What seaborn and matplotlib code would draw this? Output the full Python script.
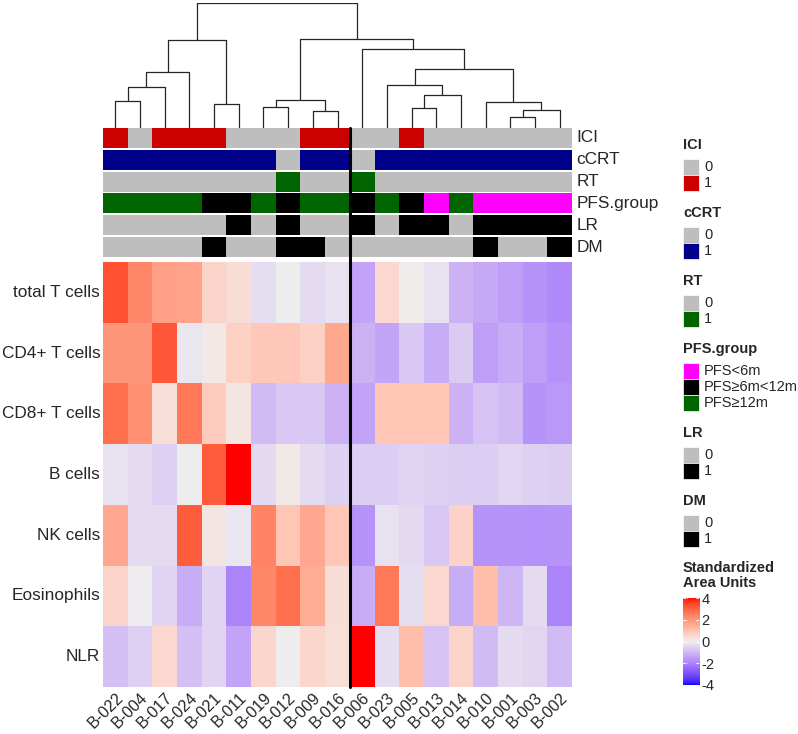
import numpy as np
import pandas as pd
import matplotlib
matplotlib.use("Agg")
import matplotlib.pyplot as plt
import seaborn as sns
from matplotlib.colors import ListedColormap, LinearSegmentedColormap
from matplotlib.lines import Line2D
from matplotlib.patches import Rectangle
from matplotlib.transforms import blended_transform_factory

# ---- data (column order = dendrogram leaf order) ----
samples = ["B-022", "B-004", "B-017", "B-024", "B-021", "B-011", "B-019", "B-012", "B-009", "B-016",
           "B-006", "B-023", "B-005", "B-013", "B-014", "B-010", "B-001", "B-003", "B-002"]
cell_types = ["total T cells", "CD4+ T cells", "CD8+ T cells", "B cells", "NK cells", "Eosinophils", "NLR"]
# last sample of the left column group (black split line drawn after it)
split_after = "B-016"

total_t = [3.3, 2.3, 1.8, 1.7, 0.6, 0.4, -0.3, 0.0, -0.35, -0.25, -1.4, 0.5, 0.05, -0.25, -1.1, -1.3, -1.5, -1.7, -1.85]
cd4 = [2.0, 2.0, 3.2, -0.15, 0.15, 0.7, 0.9, 0.9, 0.7, 1.6, -1.1, -1.35, -0.7, -1.25, -0.65, -1.5, -1.25, -1.5, -1.75]
cd8 = [2.8, 2.1, 0.35, 2.6, 0.8, 0.2, -0.95, -0.7, -0.7, -1.1, -1.4, 0.95, 0.95, 0.95, -1.1, -0.8, -0.95, -1.7, -1.6]
b_cells = [-0.25, -0.35, -0.55, 0.0, 3.1, 4.0, -0.4, 0.15, -0.35, -0.55, -0.6, -0.6, -0.5, -0.55, -0.6, -0.6, -0.45, -0.55, -0.6]
nk = [1.6, -0.35, -0.35, 3.1, 0.2, -0.15, 2.4, 0.95, 1.6, 0.95, -1.7, -0.25, -0.4, -0.7, 0.65, -1.7, -1.7, -1.75, -1.7]
eos = [0.6, -0.05, -0.5, -1.25, -0.5, -2.0, 2.3, 2.75, 1.5, 0.4, -1.25, 2.6, -0.3, 0.5, -1.25, 1.1, -1.05, -0.35, -2.0]
nlr = [-0.85, -0.55, 0.5, -0.85, -0.5, -1.4, 0.55, 0.0, 0.55, 0.35, 4.0, -0.3, 1.1, -0.8, 0.6, -0.95, -0.35, -0.45, -0.95]

ici = ["1", "0", "1", "1", "1", "0", "0", "0", "1", "1", "0", "0", "1", "0", "0", "0", "0", "0", "0"]
ccrt = ["1", "1", "1", "1", "1", "1", "1", "0", "1", "1", "0", "1", "1", "1", "1", "1", "1", "1", "1"]
rt = ["0", "0", "0", "0", "0", "0", "0", "1", "0", "0", "1", "0", "0", "0", "0", "0", "0", "0", "0"]
pfs = ["PFS≥12m", "PFS≥12m", "PFS≥12m", "PFS≥12m", "PFS≥6m<12m", "PFS≥6m<12m", "PFS≥12m", "PFS≥6m<12m",
       "PFS≥12m", "PFS≥12m", "PFS≥6m<12m", "PFS≥12m", "PFS≥6m<12m", "PFS<6m", "PFS≥12m",
       "PFS<6m", "PFS<6m", "PFS<6m", "PFS<6m"]
lr = ["0", "0", "0", "0", "0", "1", "0", "1", "0", "0", "1", "0", "1", "1", "0", "1", "1", "1", "1"]
dm = ["0", "0", "0", "0", "1", "0", "0", "1", "1", "0", "0", "0", "0", "0", "0", "1", "0", "0", "1"]

annotations = [
    ("ICI", ici, ["0", "1"], ["#BEBEBE", "#CD0000"]),
    ("cCRT", ccrt, ["0", "1"], ["#BEBEBE", "#00008B"]),
    ("RT", rt, ["0", "1"], ["#BEBEBE", "#006400"]),
    ("PFS.group", pfs, ["PFS<6m", "PFS≥6m<12m", "PFS≥12m"], ["#FF00FF", "#000000", "#006400"]),
    ("LR", lr, ["0", "1"], ["#BEBEBE", "#000000"]),
    ("DM", dm, ["0", "1"], ["#BEBEBE", "#000000"]),
]

# column dendrogram merges: (left, right, height, new node name)
dendro_merges = [
    ("B-022", "B-004", 2.14, "n0"),
    ("n0", "B-017", 3.22, "n1"),
    ("n1", "B-024", 4.42, "n2"),
    ("B-021", "B-011", 1.88, "n3"),
    ("n2", "n3", 7.05, "n4"),
    ("B-019", "B-012", 1.66, "n5"),
    ("B-009", "B-016", 1.29, "n6"),
    ("n5", "n6", 2.23, "n7"),
    ("B-005", "B-013", 1.55, "n8"),
    ("n8", "B-014", 2.65, "n9"),
    ("B-023", "n9", 3.38, "n10"),
    ("B-001", "B-003", 0.88, "n11"),
    ("n11", "B-002", 1.37, "n12"),
    ("B-010", "n12", 2.04, "n13"),
    ("n10", "n13", 4.72, "n14"),
    ("B-006", "n14", 6.33, "n15"),
    ("n7", "n15", 7.10, "n16"),
    ("n4", "n16", 10.0, "root"),
]

# ---- colour map: blue / #EEEEEE / red interpolated in LAB ----
def rgb2lab(rgb):
    c = np.asarray(rgb, float)
    lin = np.where(c <= 0.04045, c / 12.92, ((c + 0.055) / 1.055) ** 2.4)
    M = np.array([[0.4124, 0.3576, 0.1805], [0.2126, 0.7152, 0.0722], [0.0193, 0.1192, 0.9505]])
    xyz = M @ lin / np.array([0.95047, 1.0, 1.08883])
    f = np.where(xyz > 0.008856, np.cbrt(xyz), 7.787 * xyz + 16 / 116)
    return np.array([116 * f[1] - 16, 500 * (f[0] - f[1]), 200 * (f[1] - f[2])])

def lab2rgb(lab):
    L, a, b = lab
    fy = (L + 16) / 116
    fx = fy + a / 500
    fz = fy - b / 200
    f = np.array([fx, fy, fz])
    xyz = np.where(f ** 3 > 0.008856, f ** 3, (f - 16 / 116) / 7.787) * np.array([0.95047, 1.0, 1.08883])
    Minv = np.array([[3.2406, -1.5372, -0.4986], [-0.9689, 1.8758, 0.0415], [0.0557, -0.2040, 1.0570]])
    lin = Minv @ xyz
    c = np.where(lin <= 0.0031308, 12.92 * lin, 1.055 * np.clip(lin, 0, None) ** (1 / 2.4) - 0.055)
    return np.clip(c, 0, 1)

anchors = [rgb2lab(x) for x in [(0, 0, 1), (0xEE / 255,) * 3, (1, 0, 0)]]
cols = []
for t in np.linspace(0, 1, 257):
    if t <= 0.5:
        s = t / 0.5
        lab = anchors[0] * (1 - s) + anchors[1] * s
    else:
        s = (t - 0.5) / 0.5
        lab = anchors[1] * (1 - s) + anchors[2] * s
    cols.append(lab2rgb(lab))
cmap = LinearSegmentedColormap.from_list("lab_bwr", cols)

# ---- figure ----
W, H = 798, 734
sns.set_style("white")
plt.rcParams["font.family"] = ["Liberation Sans", "DejaVu Sans"]
fig = plt.figure(figsize=(W / 100, H / 100), dpi=100)

def px_axes(x0, y0, x1, y1):
    return fig.add_axes([x0 / W, 1 - y1 / H, (x1 - x0) / W, (y1 - y0) / H])

HM_X0, HM_X1 = 103, 572
FS = 12.4

# heatmap
df = pd.DataFrame([total_t, cd4, cd8, b_cells, nk, eos, nlr], index=cell_types, columns=samples)
ax_hm = px_axes(HM_X0, 262, HM_X1, 687)
cax = px_axes(683, 598, 700, 685)
sns.heatmap(df, ax=ax_hm, cmap=cmap, vmin=-4, vmax=4, cbar_ax=cax,
            cbar_kws={"ticks": [-4, -2, 0, 2, 4]}, linewidths=0)
ax_hm.set_xlabel("")
ax_hm.set_ylabel("")
ax_hm.tick_params(axis="both", length=0)
ax_hm.set_yticklabels(cell_types, rotation=0, fontsize=FS)
ax_hm.set_xticklabels(samples, rotation=45, ha="right", va="top", rotation_mode="anchor", fontsize=11.6)
ax_hm.tick_params(axis="x", pad=2)
ax_hm.tick_params(axis="y", pad=2)

cax.tick_params(length=0, labelsize=10.5, pad=1)
cax.set_yticklabels(["-4", "-2", "0", "2", "4"])
for t in [-4, -2, 0, 2, 4]:
    cax.plot([0, 0.22], [t, t], color="white", lw=0.8, ls=(0, (2, 1)))
    cax.plot([0.78, 1], [t, t], color="white", lw=0.8, ls=(0, (2, 1)))
for s in cax.spines.values():
    s.set_visible(False)

# annotation rows
for i, (name, vals, levels, colors) in enumerate(annotations):
    top = 128 + i * 21.8
    ax = px_axes(HM_X0, top, HM_X1, top + 20)
    codes = pd.DataFrame([[levels.index(v) for v in vals]], columns=samples)
    sns.heatmap(codes, ax=ax, cmap=ListedColormap(colors), vmin=-0.5, vmax=len(levels) - 0.5,
                cbar=False, xticklabels=False, yticklabels=False, linewidths=0)
    ax.set_xlabel("")
    ax.set_ylabel("")
    ax.text(1.01, 0.5, name, transform=ax.transAxes, ha="left", va="center", fontsize=FS)

# dendrogram
ax_d = px_axes(HM_X0, 3, HM_X1, 127.5)
pos = {s: (i + 0.5, 0.0) for i, s in enumerate(samples)}
for a, b, h, new in dendro_merges:
    (xa, ha), (xb, hb) = pos[a], pos[b]
    ax_d.plot([xa, xa, xb, xb], [ha, h, h, hb], color="#262626", lw=0.9, solid_capstyle="butt")
    pos[new] = ((xa + xb) / 2, h)
ax_d.set_xlim(0, len(samples))
ax_d.set_ylim(0, dendro_merges[-1][2])
ax_d.axis("off")

# split line between the two column groups
split = samples.index(split_after) + 1
tr = blended_transform_factory(ax_hm.transData, fig.transFigure)
fig.add_artist(Line2D([split, split], [1 - 128 / H, 1 - 687 / H], transform=tr, color="black", lw=2.2))

# legends
ax_leg = fig.add_axes([0, 0, 1, 1])
ax_leg.set_xlim(0, W)
ax_leg.set_ylim(H, 0)
ax_leg.axis("off")
ax_leg.patch.set_alpha(0)
y = 145
for name, vals, levels, colors in annotations:
    ax_leg.text(683, y, name, fontsize=10.5, fontweight="bold", ha="left", va="center")
    for j, (lev, c) in enumerate(zip(levels, colors)):
        y0 = y + 14 + 16 * j
        ax_leg.add_patch(Rectangle((683, y0), 16, 16, facecolor=c, edgecolor="white", lw=0.5))
        ax_leg.text(704, y0 + 8, lev, fontsize=10.5, ha="left", va="center")
    y += 14 + 16 * len(levels) + 22
ax_leg.text(683, y - 8, "Standardized\nArea Units", fontsize=10.5, fontweight="bold",
            ha="left", va="top", linespacing=1.05)

fig.savefig("out.png", dpi=100, facecolor="white")
